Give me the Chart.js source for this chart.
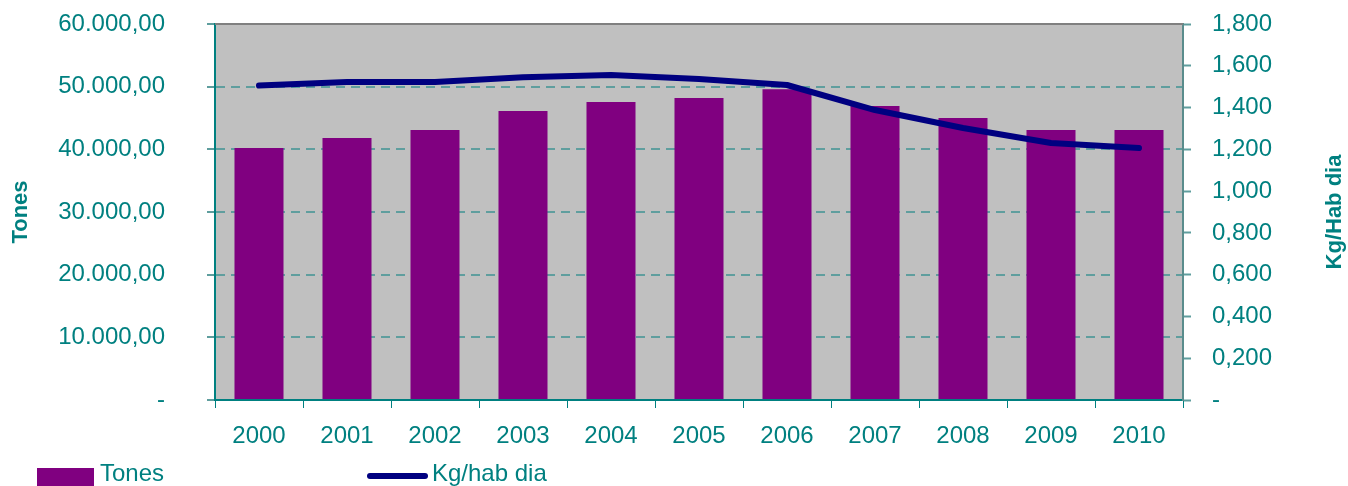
<!DOCTYPE html>
<html>
<head>
<meta charset="utf-8">
<script src="https://cdn.jsdelivr.net/npm/chart.js@4.4.1/dist/chart.umd.min.js"></script>
<style>
  html, body { margin: 0; padding: 0; background: #fff; overflow: hidden; }
  #myChart { display: block; }
</style>
</head>
<body>
<canvas id="myChart" width="1348" height="486"></canvas>
<script>
// values
var years = ['2000', '2001', '2002', '2003', '2004', '2005', '2006', '2007', '2008', '2009', '2010']
var tones = [40200, 41800, 43100, 46100, 47550, 48200, 49600, 46900, 45000, 43100, 43100]
var kgHabDia = [1.505, 1.522, 1.522, 1.545, 1.556, 1.537, 1.508, 1.388, 1.302, 1.230, 1.206]

var TEAL = '#008080'
var FONT = "'Liberation Sans', Arial, sans-serif"

// 60000 -> "60.000,00", 0 -> "-"
function fmtTones(v) {
  if (v === 0) return '-'
  var s = Math.round(v).toString().replace(/\B(?=(\d{3})+(?!\d))/g, '.')
  return s + ',00'
}
// 1.8 -> "1,800", 0 -> "-"
function fmtKg(v) {
  if (Math.abs(v) < 1e-9) return '-'
  return v.toFixed(3).replace('.', ',')
}

// fixed axis sizes so the plot area lands where it is in the picture
function fixSize(w, h) {
  return function(s) {
    if (w != null) s.width = w
    if (h != null) s.height = h
    s.paddingTop = 0
    s.paddingBottom = 0
    s.paddingLeft = 0
    s.paddingRight = 0
  }
}

// grey plot background, grey top border, rotated axis titles and the legend
var decor = {
  id: 'decor',
  beforeDraw: function(chart) {
    var a = chart.chartArea, ctx = chart.ctx
    ctx.save()
    ctx.fillStyle = '#c0c0c0'
    ctx.fillRect(a.left, a.top, a.right - a.left, a.bottom - a.top)
    ctx.restore()
  },
  beforeDatasetsDraw: function(chart) {
    var a = chart.chartArea, ctx = chart.ctx
    ctx.save()
    ctx.strokeStyle = '#808080'
    ctx.lineWidth = 2
    ctx.beginPath()
    ctx.moveTo(a.left, a.top)
    ctx.lineTo(a.right, a.top)
    ctx.stroke()
    ctx.restore()
  },
  afterDraw: function(chart) {
    var ctx = chart.ctx
    ctx.save()
    ctx.fillStyle = TEAL
    ctx.font = 'bold 22px ' + FONT
    ctx.textAlign = 'center'
    ctx.textBaseline = 'middle'
    ctx.translate(21, 212)
    ctx.rotate(-Math.PI / 2)
    ctx.fillText('Tones', 0, 0)
    ctx.restore()

    ctx.save()
    ctx.fillStyle = TEAL
    ctx.font = 'bold 22px ' + FONT
    ctx.textAlign = 'center'
    ctx.textBaseline = 'middle'
    ctx.translate(1335, 212)
    ctx.rotate(-Math.PI / 2)
    ctx.fillText('Kg/Hab dia', 0, 0)
    ctx.restore()

    // legend
    var ds = chart.data.datasets
    ctx.save()
    ctx.font = '24px ' + FONT
    ctx.textBaseline = 'middle'
    ctx.fillStyle = ds[1].backgroundColor
    ctx.fillRect(37, 468, 57, 20)
    ctx.fillStyle = TEAL
    ctx.fillText(ds[1].label, 100, 474)

    ctx.strokeStyle = ds[0].borderColor
    ctx.lineWidth = 6
    ctx.lineCap = 'round'
    ctx.beginPath()
    ctx.moveTo(370, 476)
    ctx.lineTo(425, 476)
    ctx.stroke()
    ctx.fillStyle = TEAL
    ctx.fillText(ds[0].label, 432, 474)
    ctx.restore()
  }
}

var ctx = document.getElementById('myChart').getContext('2d')
var chart = new Chart(ctx, {
  data: {
    labels: years,
    datasets: [{
      type: 'line',
      label: 'Kg/hab dia',
      data: kgHabDia,
      yAxisID: 'y1',
      borderColor: '#000080',
      backgroundColor: '#000080',
      borderWidth: 6,
      borderCapStyle: 'round',
      borderJoinStyle: 'round',
      pointRadius: 0,
      tension: 0,
      order: 0
    }, {
      type: 'bar',
      label: 'Tones',
      data: tones,
      yAxisID: 'y',
      backgroundColor: '#800080',
      borderWidth: 0,
      barPercentage: 0.557,
      categoryPercentage: 1,
      order: 1
    }]
  },
  options: {
    responsive: false,
    animation: false,
    devicePixelRatio: 1,
    layout: { padding: { top: 24, left: 0, right: 0, bottom: 0 } },
    plugins: {
      legend: { display: false },
      tooltip: { enabled: false }
    },
    scales: {
      x: {
        afterFit: fixSize(null, 86),
        grid: {
          offset: true,
          drawOnChartArea: false,
          tickLength: 8,
          tickColor: TEAL,
          tickWidth: 1
        },
        border: { color: TEAL, width: 2 },
        ticks: {
          color: TEAL,
          font: { family: FONT, size: 24 },
          padding: 14,
          maxRotation: 0
        }
      },
      y: {
        position: 'left',
        min: 0,
        max: 60000,
        afterFit: fixSize(215, null),
        grid: {
          color: function(c) {
            return (c.tick && (c.tick.value === 0 || c.tick.value === 60000)) ? 'rgba(0,0,0,0)' : '#5f9e9e'
          },
          lineWidth: 2,
          tickLength: 8,
          tickColor: '#5f9e9e',
          tickWidth: 2,
          tickBorderDash: []
        },
        border: { color: TEAL, width: 2, dash: [9, 6] },
        ticks: {
          stepSize: 10000,
          color: TEAL,
          font: { family: FONT, size: 24 },
          padding: 42,
          callback: function(v) { return fmtTones(v) }
        }
      },
      y1: {
        position: 'right',
        min: 0,
        max: 1.8,
        afterFit: fixSize(165, null),
        grid: {
          drawOnChartArea: false,
          tickLength: 8,
          tickColor: '#5f9e9e',
          tickWidth: 2
        },
        border: { color: '#5a8c8c', width: 2 },
        ticks: {
          stepSize: 0.2,
          color: TEAL,
          font: { family: FONT, size: 24 },
          padding: 21,
          callback: function(v) { return fmtKg(v) }
        }
      }
    }
  },
  plugins: [decor]
})
</script>
</body>
</html>
